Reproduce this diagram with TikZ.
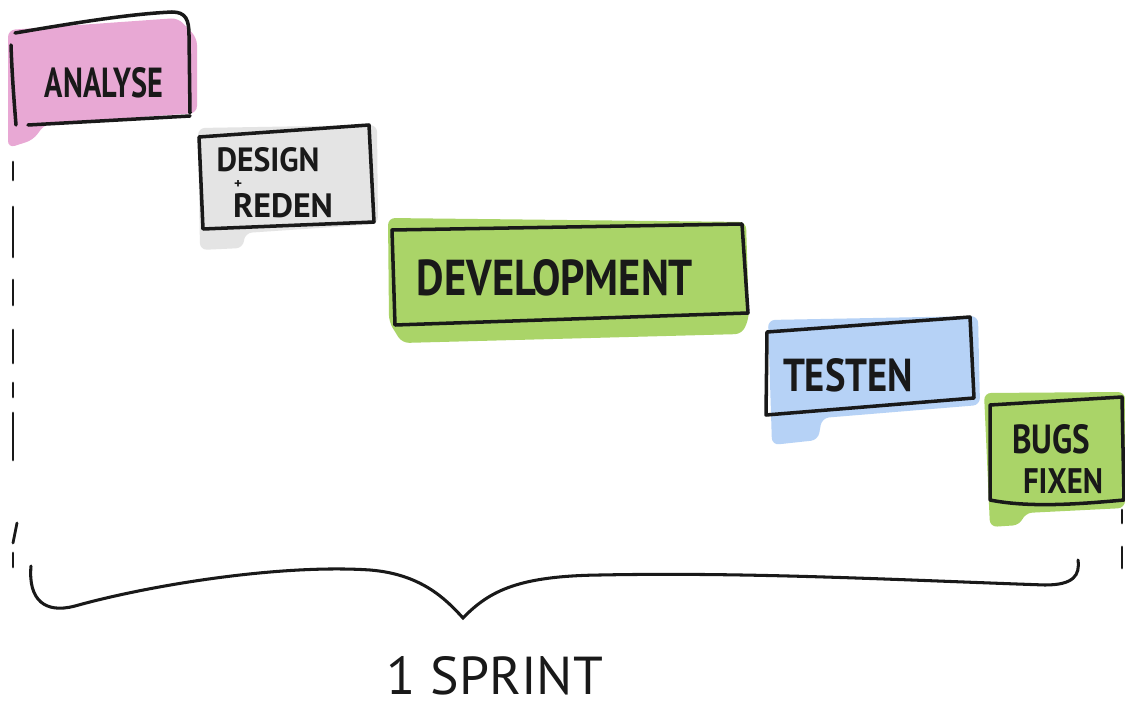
\documentclass[tikz,border=0pt]{standalone}
\usepackage{fontspec}
\usepackage{graphicx}
\newfontfamily\handfont{PT Sans}
\newlength\upx
\setlength\upx{0.03cm}
\newcommand{\hw}[3]{\resizebox{#1\upx}{#2\upx}{\handfont #3}}
\definecolor{pinkfill}{RGB}{232,168,212}
\definecolor{grayfill}{RGB}{228,228,228}
\definecolor{greenfill}{RGB}{170,212,104}
\definecolor{bluefill}{RGB}{182,210,246}
\definecolor{ink}{RGB}{25,25,25}
\tikzset{
  pen/.style={draw=ink, line width=3pt, line cap=round, line join=round},
  thinpen/.style={draw=ink, line width=2.4pt, line cap=round},
  label/.style={inner sep=0pt, text=ink, font=\bfseries},
  tint/.style={rounded corners=6pt}
}
\begin{document}
\begin{tikzpicture}[x=0.03cm,y=-0.03cm]
\useasboundingbox (0,0) rectangle (1125,710);
\fill[white] (0,0) rectangle (1125,710);

% ---------- fills ----------
\fill[pinkfill,tint] (8,30) -- (178,18) -- (197,38) -- (197,113) -- (45,124) -- (33,140) -- (8,148) -- cycle;
\fill[grayfill,tint] (198,128) -- (377,125) -- (378,224) -- (245,233) -- (243,248) -- (200,250) -- cycle;
\fill[greenfill,tint] (388,218) -- (746,222) -- (749,318) -- (742,334) -- (402,343) -- (389,322) -- cycle;
\fill[bluefill,tint] (768,320) -- (978,316) -- (980,405) -- (822,418) -- (818,440) -- (772,445) -- cycle;
\fill[greenfill,tint] (984,393) -- (1125,392) -- (1125,508) -- (1025,513) -- (1020,525) -- (990,527) -- cycle;

% ---------- outlines ----------
\draw[pen] (15,33) .. controls (80,22) and (130,14) .. (172,12) .. controls (186,12) and (189,20) .. (189,35) -- (190,113);
\draw[pen] (28,125) -- (190,116);
\draw[pen] (11,45) .. controls (12,75) and (14,100) .. (16,125);

\draw[pen] (199,137) -- (369,125) -- (374,222) -- (203,229) -- cycle;
\draw[pen] (392,230) -- (742,224) -- (748,313) -- (395,325) -- cycle;
\draw[pen] (767,332) -- (970,317) -- (974,398) -- (766,415) -- cycle;
\draw[pen] (990,405) -- (1122,397) -- (1124,500) .. controls (1080,504) and (1030,508) .. (990,500) -- cycle;

% ---------- texts ----------
\node[label] (analyse) at (104,83) {\hw{118}{30}{ANALYSE}};
\node[label] (design) at (268,160) {\hw{103}{24}{DESIGN}};
\node[label] (plus) at (238,185) {\hw{8}{8}{+}};
\node[label] (reden) at (283,206) {\hw{100}{24}{REDEN}};
\node[label] (development) at (555,278) {\hw{276}{36}{DEVELOPMENT}};
\node[label] (testen) at (848,375) {\hw{130}{33}{TESTEN}};
\node[label] (bugs) at (1051,439) {\hw{78}{29}{BUGS}};
\node[label] (fixen) at (1063,481) {\hw{80}{25}{FIXEN}};
\node[label, font=\mdseries] (sprint) at (495,676) {\hw{216}{38}{1 SPRINT}};

% ---------- dashed guide lines ----------
\foreach \a/\b in {162/180, 207/257, 280/305, 330/363, 383/397, 413/460, 553/567}
  \draw[thinpen] (13,\a) -- (13,\b);
\draw[thinpen] (17,523) -- (13,543);
\draw[thinpen] (1122,510) -- (1122,523);
\draw[thinpen] (1122,547) -- (1122,568);

% ---------- brace ----------
\coordinate (bl) at (31,566);
\coordinate (bm) at (463,618);
\coordinate (br) at (1078,560);
\draw[thinpen, line width=2.6pt]
  (bl) .. controls (28,600) and (45,614) .. (75,606)
       .. controls (150,585) and (280,564) .. (370,570)
       .. controls (420,574) and (445,598) .. (bm)
       .. controls (490,590) and (520,576) .. (600,575)
       .. controls (750,572) and (900,580) .. (1045,585)
       .. controls (1074,585) and (1080,575) .. (br);
\end{tikzpicture}
\end{document}
